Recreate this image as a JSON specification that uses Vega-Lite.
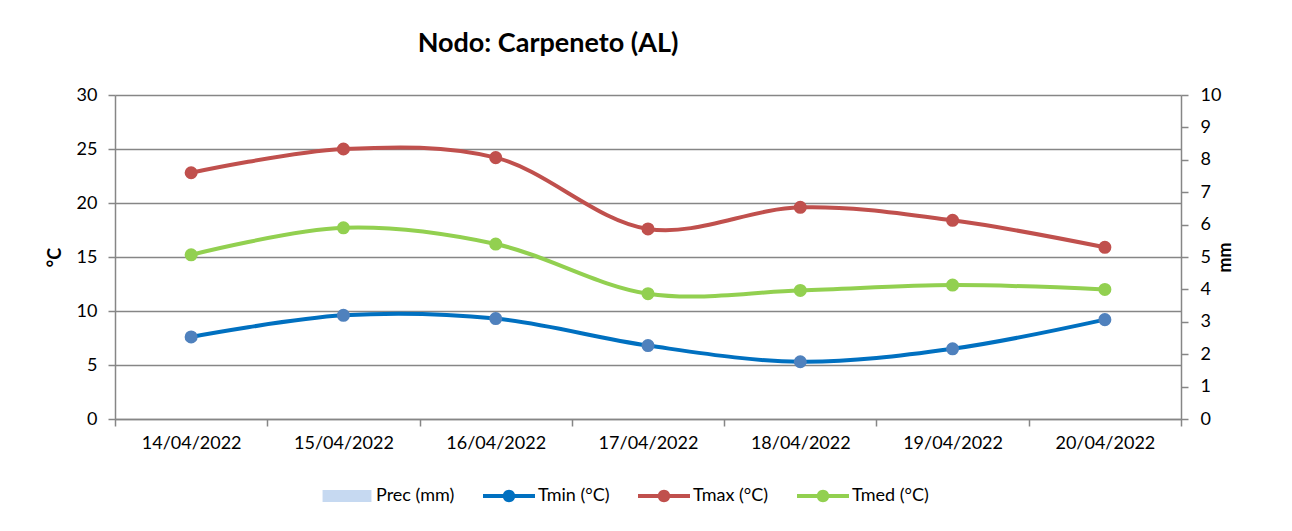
{
  "$schema": "https://vega.github.io/schema/vega-lite/v6.json",
  "width": 1066,
  "height": 324,
  "autosize": {"type": "none"},
  "padding": {"left": 115, "top": 95, "right": 111, "bottom": 112},
  "background": "white",
  "config": {
    "view": {"stroke": null},
    "font": "Lato",
    "axis": {
      "labelFont": "Lato",
      "labelFontSize": 18,
      "labelColor": "#000000",
      "titleFont": "Lato",
      "titleFontSize": 18,
      "titleFontWeight": "bold",
      "titleColor": "#000000",
      "domainColor": "#868686",
      "domainWidth": 1.5,
      "tickColor": "#868686",
      "tickWidth": 1.5,
      "tickSize": 7,
      "gridColor": "#868686",
      "gridWidth": 1.4
    }
  },
  "title": {
    "text": "Nodo: Carpeneto (AL)",
    "font": "Lato",
    "fontSize": 27,
    "fontWeight": "bold",
    "color": "#000000",
    "anchor": "middle",
    "dx": -100,
    "offset": 28
  },
  "datasets": {
    "temp": [
      {"date": "14/04/2022", "series": "Tmin (°C)", "value": 7.6},
      {"date": "15/04/2022", "series": "Tmin (°C)", "value": 9.6},
      {"date": "16/04/2022", "series": "Tmin (°C)", "value": 9.3},
      {"date": "17/04/2022", "series": "Tmin (°C)", "value": 6.8},
      {"date": "18/04/2022", "series": "Tmin (°C)", "value": 5.3},
      {"date": "19/04/2022", "series": "Tmin (°C)", "value": 6.5},
      {"date": "20/04/2022", "series": "Tmin (°C)", "value": 9.2},
      {"date": "14/04/2022", "series": "Tmax (°C)", "value": 22.8},
      {"date": "15/04/2022", "series": "Tmax (°C)", "value": 25.0},
      {"date": "16/04/2022", "series": "Tmax (°C)", "value": 24.2},
      {"date": "17/04/2022", "series": "Tmax (°C)", "value": 17.6},
      {"date": "18/04/2022", "series": "Tmax (°C)", "value": 19.6},
      {"date": "19/04/2022", "series": "Tmax (°C)", "value": 18.4},
      {"date": "20/04/2022", "series": "Tmax (°C)", "value": 15.9},
      {"date": "14/04/2022", "series": "Tmed (°C)", "value": 15.2},
      {"date": "15/04/2022", "series": "Tmed (°C)", "value": 17.7},
      {"date": "16/04/2022", "series": "Tmed (°C)", "value": 16.2},
      {"date": "17/04/2022", "series": "Tmed (°C)", "value": 11.6},
      {"date": "18/04/2022", "series": "Tmed (°C)", "value": 11.9},
      {"date": "19/04/2022", "series": "Tmed (°C)", "value": 12.4},
      {"date": "20/04/2022", "series": "Tmed (°C)", "value": 12.0}
    ],
    "prec": [
      {"date": "14/04/2022", "prec": 0},
      {"date": "15/04/2022", "prec": 0},
      {"date": "16/04/2022", "prec": 0},
      {"date": "17/04/2022", "prec": 0},
      {"date": "18/04/2022", "prec": 0},
      {"date": "19/04/2022", "prec": 0},
      {"date": "20/04/2022", "prec": 0}
    ]
  },
  "layer": [
    {
      "data": {"name": "temp"},
      "encoding": {
        "x": {
          "field": "date",
          "type": "ordinal",
          "bandPosition": 0.5,
          "scale": {"type": "band", "paddingInner": 0, "paddingOuter": 0},
          "axis": {
            "title": null,
            "labelAngle": 0,
            "tickBand": "extent",
            "labelPadding": 8,
            "grid": false
          }
        },
        "y": {
          "field": "value",
          "type": "quantitative",
          "scale": {"domain": [0, 30]},
          "axis": {
            "orient": "left",
            "title": "°C",
            "values": [0, 5, 10, 15, 20, 25, 30],
            "grid": true,
            "labelPadding": 11,
            "titlePadding": 12
          }
        }
      },
      "layer": [
        {
          "mark": {"type": "line", "interpolate": "catmull-rom", "strokeWidth": 4, "strokeCap": "round"},
          "encoding": {
            "color": {
              "field": "series",
              "type": "nominal",
              "sort": null,
              "scale": {
                "domain": ["Prec (mm)", "Tmin (°C)", "Tmax (°C)", "Tmed (°C)"],
                "range": ["#C6D9F1", "#0070C0", "#C0504D", "#92D050"]
              },
              "legend": {
                "title": null,
                "orient": "none",
                "direction": "horizontal",
                "legendX": 206,
                "legendY": 375,
                "symbolSize": 2704,
                "symbolType": "square",
                "labelOffset": 3,
                "columnPadding": 28,
                "labelFont": "Lato",
                "labelFontSize": 18,
                "labelColor": "#000000",
                "encode": {
                  "symbols": {
                    "update": {
                      "shape": {"signal": "datum.value === 'Prec (mm)' ? 'M-0.94,-0.23H0.94V0.23H-0.94Z' : 'M-1,-0.08H1V0.08H-1Z M0.24,0A0.24,0.24 0 1,1 -0.24,0A0.24,0.24 0 1,1 0.24,0Z'"},
                      "fill": {"signal": "scale('color', datum.value)"},
                      "stroke": {"value": "transparent"},
                      "strokeWidth": {"value": 0},
                      "opacity": {"value": 1},
                      "fillOpacity": {"value": 1}
                    }
                  }
                }
              }
            }
          }
        },
        {
          "mark": {"type": "point", "filled": true, "size": 170, "opacity": 1, "strokeWidth": 0},
          "encoding": {
            "fill": {
              "field": "series",
              "type": "nominal",
              "scale": {
                "domain": ["Prec (mm)", "Tmin (°C)", "Tmax (°C)", "Tmed (°C)"],
                "range": ["#C6D9F1", "#4F81BD", "#C0504D", "#92D050"]
              },
              "legend": null
            }
          }
        }
      ]
    },
    {
      "data": {"name": "prec"},
      "mark": {"type": "bar", "color": "#C6D9F1"},
      "encoding": {
        "x": {
          "field": "date",
          "type": "ordinal"
        },
        "y": {
          "field": "prec",
          "type": "quantitative",
          "scale": {"domain": [0, 10]},
          "axis": {
            "orient": "right",
            "title": "mm",
            "titleAngle": -90,
            "values": [0, 1, 2, 3, 4, 5, 6, 7, 8, 9, 10],
            "grid": false,
            "labelPadding": 12,
            "titlePadding": 14
          }
        }
      }
    }
  ],
  "resolve": {"scale": {"y": "independent", "fill": "independent"}, "axis": {"y": "independent"}}
}
